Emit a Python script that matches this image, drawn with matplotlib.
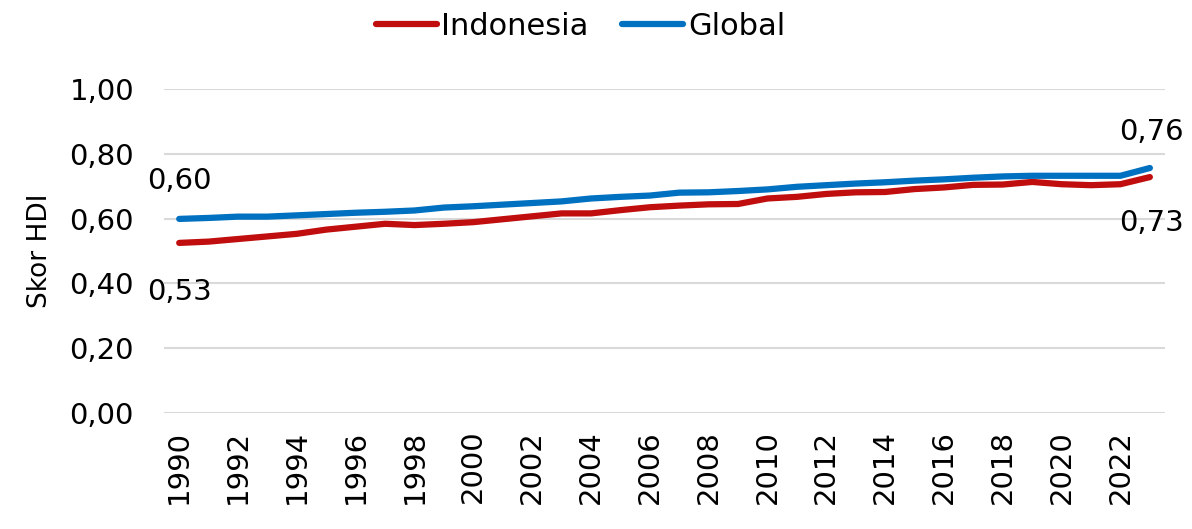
import numpy as np
import matplotlib.pyplot as plt

plt.rcParams['font.family'] = ['DejaVu Sans']

years = list(range(1990, 2024))
indonesia = [0.525, 0.529, 0.537, 0.545, 0.553, 0.566, 0.575, 0.584, 0.580, 0.584,
             0.589, 0.598, 0.607, 0.616, 0.616, 0.626, 0.635, 0.640, 0.644, 0.645,
             0.662, 0.667, 0.676, 0.681, 0.682, 0.691, 0.696, 0.704, 0.705, 0.713,
             0.706, 0.703, 0.706, 0.728]
global_hdi = [0.599, 0.602, 0.606, 0.606, 0.610, 0.614, 0.618, 0.621, 0.625, 0.634,
              0.638, 0.643, 0.648, 0.653, 0.662, 0.667, 0.671, 0.680, 0.681, 0.685,
              0.690, 0.698, 0.703, 0.708, 0.712, 0.717, 0.721, 0.726, 0.730, 0.732,
              0.732, 0.732, 0.732, 0.756]
y_ticks = [0.0, 0.2, 0.4, 0.6, 0.8, 1.0]

red = '#C00D0D'
blue = '#0070C0'
fs = 21

fig = plt.figure(figsize=(11.92, 5.29), dpi=100)
ax = fig.add_axes([0.138, 0.219, 0.839, 0.613])

ax.plot(years, indonesia, color=red, lw=4.5, solid_capstyle='round', label='Indonesia')
ax.plot(years, global_hdi, color=blue, lw=4.5, solid_capstyle='round', label='Global')

ax.set_xlim(years[0] - 0.5, years[-1] + 0.5)
ax.set_ylim(0, 1)
ax.set_yticks(y_ticks)
ax.set_yticklabels([('%.2f' % v).replace('.', ',') for v in y_ticks], fontsize=fs)
ax.set_xticks(years[::2])
ax.set_xticklabels([str(y) for y in years[::2]], rotation=90, fontsize=fs)
ax.tick_params(length=0, pad=22)
ax.tick_params(axis='x', pad=12)
ax.grid(axis='y', color='#D9D9D9', lw=1.5)
ax.set_axisbelow(True)
for s in ax.spines.values():
    s.set_visible(False)
ax.set_ylabel('Skor HDI', fontsize=19, labelpad=12)

# value labels at the ends
fmt = lambda v: ('%.2f' % v).replace('.', ',')
ax.annotate(fmt(global_hdi[0]), (years[0], global_hdi[0]), xytext=(0, 17),
            textcoords='offset points', ha='center', va='bottom', fontsize=fs)
ax.annotate(fmt(indonesia[0]), (years[0], indonesia[0]), xytext=(0, -25),
            textcoords='offset points', ha='center', va='top', fontsize=fs)
ax.annotate(fmt(global_hdi[-1]), (years[-1], global_hdi[-1]), xytext=(1, 16),
            textcoords='offset points', ha='center', va='bottom', fontsize=fs)
ax.annotate(fmt(indonesia[-1]), (years[-1], indonesia[-1]), xytext=(1, -23),
            textcoords='offset points', ha='center', va='top', fontsize=fs)

fig.legend(loc='upper center', bbox_to_anchor=(0.487, 1.03), ncol=2, frameon=False,
           fontsize=22, handlelength=2.0, handletextpad=0.15, columnspacing=1.1)

fig.savefig('out.png', dpi=100)
